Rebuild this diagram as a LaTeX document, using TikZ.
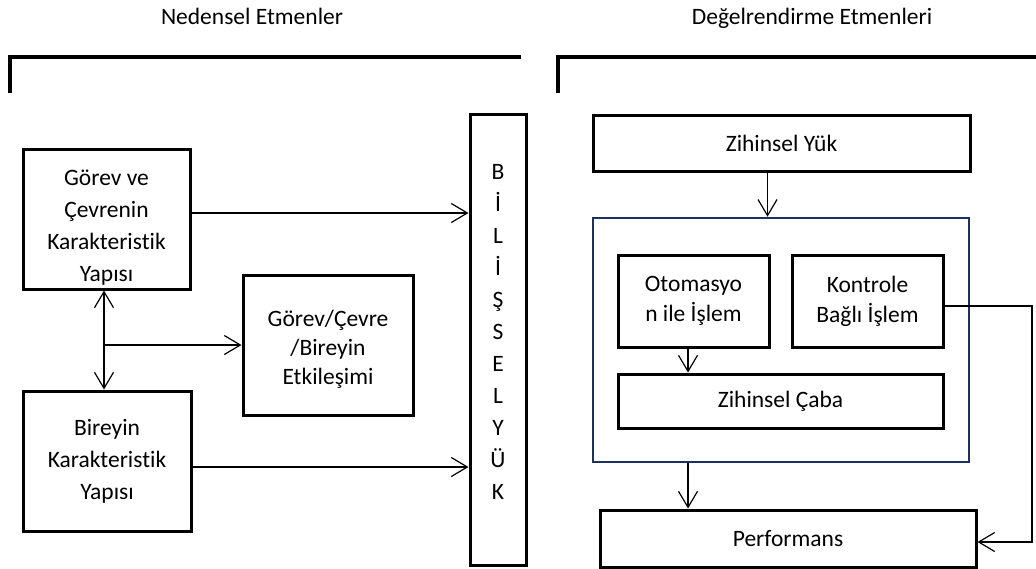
\documentclass[tikz,border=0pt]{standalone}
\usepackage{fontspec}
\setmainfont{Carlito}[Ligatures=NoCommon]
\usepackage{xcolor}
\definecolor{FrameNavy}{RGB}{28, 48, 98}
\usepackage{tikz}
\usetikzlibrary{arrows.meta, positioning, calc}

\newcommand{\boxfont}{\fontsize{11.75}{16}\selectfont}

\begin{document}
\begin{tikzpicture}[
        x=0.5pt, y=-0.5pt,
        node distance=10pt and 10pt,
        box/.style={draw, line width=1.5pt, inner sep=0pt,
                    font=\boxfont, align=center},
        txt/.style={font=\boxfont, align=center, inner sep=0pt},
        group/.style={draw=FrameNavy, line width=1.3pt, inner sep=0pt},
        head/.style={font=\boxfont, anchor=base},
        brace/.style={line width=2pt},
        arr/.style={-{Straight Barb[length=8pt, width=9.5pt]}, line width=0.6pt},
        darr/.style={{Straight Barb[length=8pt, width=9.5pt]}-{Straight Barb[length=8pt, width=9.5pt]}, line width=0.6pt}
    ]
        \useasboundingbox (0,0) rectangle (1036,568);

        % headings and brackets
        \node[head] (hleft) at (252,24) {Nedensel Etmenler};
        \node[head] (hright) at (812,24) {Değelrendirme Etmenleri};
        \draw[brace] (10,93) -- (10,57) -- (521,57);
        \draw[brace] (558,93) -- (558,57) -- (1036,57);

        % left column
        \node[box, minimum width=83.5pt, minimum height=70pt] (gorev) at (106.5,219) {};
        \node[txt] (gorevtext) at ([yshift=-4.5pt]gorev.center)
            {Görev ve\\Çevrenin\\Karakteristik\\Yapısı};
        \node[box, minimum width=84pt, minimum height=70pt] (bireyin) at (107,461)
            {Bireyin\\Karakteristik\\Yapısı};
        \node[box, minimum width=85pt, minimum height=70pt] (etkilesim) at (328,345) {};
        \node[txt, font=\fontsize{11.75}{14.5}\selectfont] (etktext) at ([yshift=-2.3pt]etkilesim.center)
            {Görev/Çevre\\/Bireyin\\Etkileşimi};
        \node[box, minimum width=28pt, minimum height=225.5pt] (bilissel) at (498,339.5) {};
        \node[txt] (biltext) at ([yshift=3.75pt]bilissel.center)
            {B\\İ\\L\\İ\\Ş\\S\\E\\L\\Y\\Ü\\K};

        \coordinate (lx) at (104,0);
        \draw[arr] ([yshift=3pt]gorev.east) -- ([yshift=3pt]gorev.east -| bilissel.west);
        \draw[arr] ([yshift=-3pt]bireyin.east) -- ([yshift=-3pt]bireyin.east -| bilissel.west);
        \draw[darr] (lx |- gorev.south) -- (lx |- bireyin.north);
        \draw[arr] (lx |- etkilesim.west) -- (etkilesim.west);

        % right column
        \node[box, minimum width=188.5pt, minimum height=28pt] (zyuk) at (781.5,143) {Zihinsel Yük};
        \node[group, minimum width=188pt, minimum height=122pt] (blue) at (781,340) {};
        \node[box, minimum width=75.5pt, minimum height=46pt,
              font=\fontsize{11.75}{15}\selectfont] (otomasyon) at (693.5,301)
            {Otomasyo\\n ile İşlem};
        \node[box, minimum width=75.5pt, minimum height=46pt,
              font=\fontsize{11.75}{15}\selectfont, right=of otomasyon] (kontrole)
            {Kontrole\\Bağlı İşlem};
        \node[box, minimum width=162.5pt, minimum height=27pt] (caba) at (780.5,401) {Zihinsel Çaba};
        \node[box, minimum width=188pt, minimum height=28.5pt] (perf) at (788,538.5) {Performans};

        \coordinate (ax) at (688,0);
        \coordinate (rx) at (1032,0);
        \draw[arr] ([xshift=-7pt]zyuk.south) -- ([xshift=-7pt]zyuk.south |- blue.north);
        \draw[arr] (ax |- otomasyon.south) -- (ax |- caba.north);
        \draw[arr] (ax |- blue.south) -- (ax |- perf.north);
        \draw[arr] ([yshift=-2.5pt]kontrole.east) -| ([yshift=-1.75pt]rx |- perf.east)
            -- ([yshift=-1.75pt]perf.east);
    \end{tikzpicture}
\end{document}
